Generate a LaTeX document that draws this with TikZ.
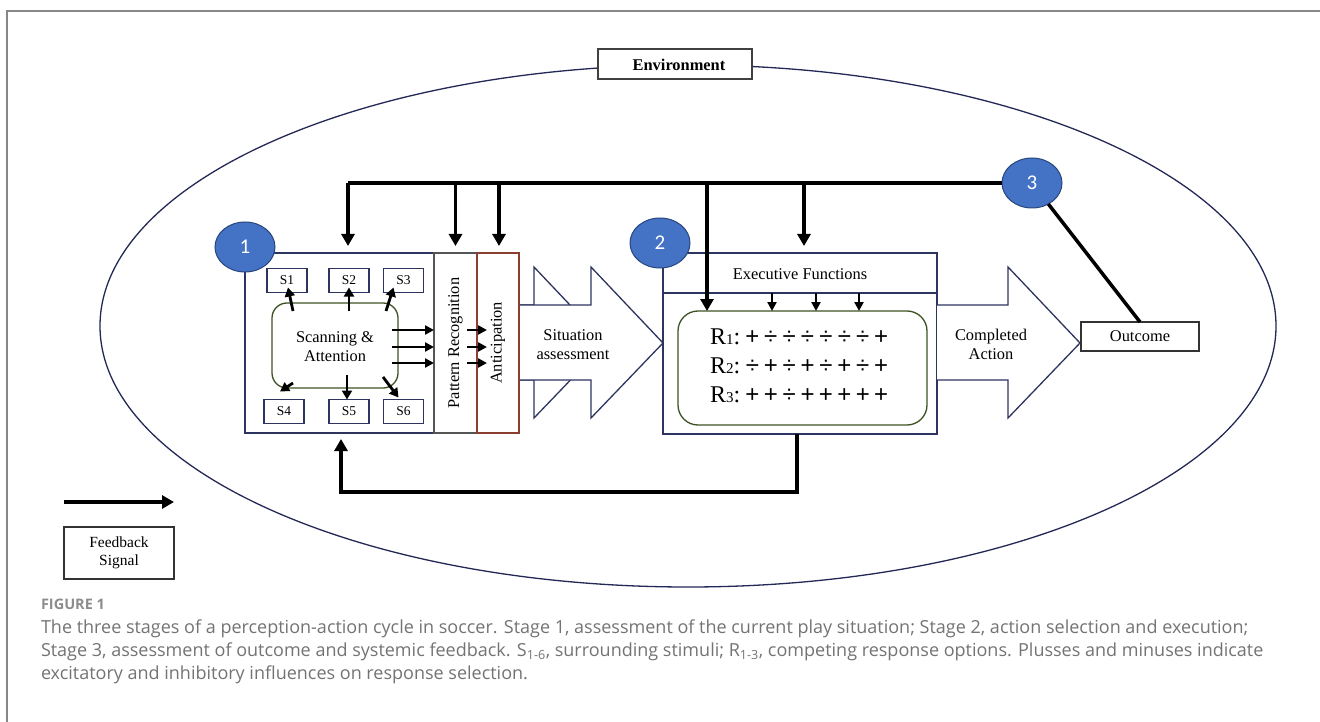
\documentclass[tikz,border=0pt]{standalone}
\usepackage{fontspec}
\setmainfont{Liberation Serif}
\newfontfamily\capfont{Open Sans}
\newfontfamily\numfont{Carlito}
\newfontfamily\symfont{Liberation Sans}
\usetikzlibrary{shapes.geometric,arrows.meta,calc}
\definecolor{navy}{RGB}{45,52,95}
\definecolor{ellc}{RGB}{35,40,85}
\definecolor{prc}{RGB}{85,85,85}
\definecolor{antc}{RGB}{140,62,48}
\definecolor{olive}{RGB}{62,82,34}
\definecolor{circf}{RGB}{68,114,196}
\definecolor{circb}{RGB}{40,70,125}
\definecolor{framec}{RGB}{135,135,135}
\definecolor{capc}{RGB}{115,115,115}
\definecolor{capt}{RGB}{140,140,140}
\newcommand\sy[1]{\makebox[18.4pt]{\symfont #1}}
\newcommand\rlab[1]{R{\fontsize{15}{15}\selectfont #1}:\hspace{3pt}}
\begin{document}
\begin{tikzpicture}[x=1pt,y=-1pt,
  every node/.style={inner sep=0pt, outer sep=0pt},
  bx/.style={draw=navy, line width=1.3pt, fill=white},
  lbl/.style={font=\fontsize{16.4}{19}\selectfont, align=center},
  sbox/.style={bx, minimum width=40pt, minimum height=24pt, font=\fontsize{13.5}{15}\selectfont},
  stage/.style={ellipse, draw=circb, line width=1pt, fill=circf, minimum width=60pt, minimum height=50pt, text=white, font=\numfont\fontsize{21}{21}\selectfont},
  fbline/.style={line width=3.5pt, black},
  fb/.style={fbline, -{Triangle[width=13pt,length=12pt]}},
  sa/.style={line width=2.8pt, -{Triangle[width=10pt,length=9pt]}},
  bigarrow/.style={draw=navy, line width=1.3pt, line join=miter},
  rline/.style={anchor=base west, font=\fontsize{24}{26}\selectfont},
  captext/.style={anchor=base west, text=capc, font=\capfont\fontsize{18}{21}\selectfont},
]
\useasboundingbox (0,0) rectangle (1320,722);
% frame
\draw[framec, line width=1.5pt] (7,722) -- (7,11) -- (1320,11);
% environment
\node[ellipse, draw=ellc, line width=1.3pt, minimum width=1176pt, minimum height=522pt] (env) at (688,326) {};
\node[draw=black!75, line width=1.2pt, fill=white, minimum width=154pt, minimum height=30pt] (envlab) at (675,64) {};
\node[font=\bfseries\fontsize{16.4}{19}\selectfont] (envt) at (679,65) {Environment};

% legend
\coordinate (legA) at (64,502);
\coordinate (legB) at (174,502);
\draw[fb] (legA) -- (legB);
\node[draw=black!80, line width=1.2pt, minimum width=110pt, minimum height=52pt, font=\fontsize{15.5}{18}\selectfont, align=center] (legend) at (119,553) {Feedback\\Signal};

% stage 1
\node[bx, minimum width=189pt, minimum height=180pt] (box1) at (339.5,343) {};
\node[draw=prc, line width=1.3pt, fill=white, minimum width=43pt, minimum height=180pt] (pr) at (455.5,343) {};
\node[draw=antc, line width=1.3pt, fill=white, minimum width=42pt, minimum height=180pt] (ant) at (498,343) {};
\node[lbl, rotate=90] (prt) at (455.5,343) {Pattern Recognition};
\node[lbl, rotate=90] (antt) at (498,343) {Anticipation};
\node[sbox] (s1) at (287,280.5) {S1};
\node[sbox] (s2) at (349,280.5) {S2};
\node[sbox] (s3) at (403.5,280.5) {S3};
\node[sbox] (s4) at (284,411.5) {S4};
\node[sbox] (s5) at (349,411.5) {S5};
\node[sbox] (s6) at (403.5,411.5) {S6};
\node[draw=olive, line width=1.3pt, rounded corners=15pt, minimum width=126pt, minimum height=85pt] (scan) at (335,345.5) {};
\node[lbl] (scant) at (335,347) {Scanning \&\\Attention};

% arrows scanning -> stimuli
\draw[sa] ($(scan.north west)+(21,8)$) -- ($(s1.south)+(1,-5)$);
\draw[sa] ($(scan.north)+(14,8)$) -- ($(s2.south)+(0,-5)$);
\draw[sa] ($(scan.north east)+(-12,8)$) -- ($(s3.south)+(-10,-5)$);
\draw[sa] ($(scan.south west)+(21,-5)$) -- ($(s4.north)+(-4,-8)$);
\draw[sa] ($(scan.south)+(12,-13)$) -- ($(s5.north)+(-2,-0)$);
\draw[sa] ($(scan.south east)+(-15,-11)$) -- ($(s6.north)+(-5,-2)$);
% scanning -> pattern recognition -> anticipation
\foreach \dy in {-13,4,20}{
  \draw[sa, -{Triangle[width=9pt,length=9pt]}] ($(pr.west)+(-42,\dy)$) -- ($(pr.west)+(0,\dy)$);
  \draw[sa, -{Triangle[width=9pt,length=9pt]}] ($(pr.east)+(-10,\dy)$) -- ($(ant.center)+(-11,\dy)$);
}

% situation assessment double arrow
\fill[white] (520,305) -- (534,305) -- (534,267) -- (606,343) -- (534,418) -- (534,380) -- (520,380) -- cycle;
\draw[bigarrow] (520,305) -- (534,305) -- (534,267) -- (606,343) -- (534,418) -- (534,380) -- (520,380);
\fill[white] (520,305) -- (591,305) -- (591,267) -- (663,343) -- (591,418) -- (591,380) -- (520,380) -- cycle;
\draw[bigarrow] (520,305) -- (591,305) -- (591,267) -- (663,343) -- (591,418) -- (591,380) -- (520,380);
\node[lbl] (sit) at (573,345) {Situation\\assessment};

% stage 2
\node[bx, minimum width=274pt, minimum height=181pt] (box2) at (800,343.5) {};
\node[bx, minimum width=274pt, minimum height=40pt] (exec) at (800,273) {};
\node[lbl] (exect) at (800,274) {Executive Functions};
\node[draw=olive, line width=1.3pt, rounded corners=20pt, minimum width=249pt, minimum height=114pt] (rbox) at (802.5,368) {};
\node[rline] (r1) at (710,344) {\rlab{1}\sy{+}\sy{÷}\sy{÷}\sy{÷}\sy{÷}\sy{÷}\sy{÷}\sy{+}};
\node[rline] (r2) at (710,373) {\rlab{2}\sy{÷}\sy{+}\sy{÷}\sy{+}\sy{÷}\sy{+}\sy{÷}\sy{+}};
\node[rline] (r3) at (710,402) {\rlab{3}\sy{+}\sy{+}\sy{÷}\sy{+}\sy{+}\sy{+}\sy{+}\sy{+}};
\foreach \dx in {-28,16,59}{
  \draw[line width=2.5pt, -{Triangle[width=9pt,length=9pt]}] ($(exec.south)+(\dx,0)$) -- ($(exec.south)+(\dx,18)$);
}

% completed action arrow
\fill[white] (937,305) -- (1008,305) -- (1008,267) -- (1080,343) -- (1008,418) -- (1008,380) -- (937,380) -- cycle;
\draw[bigarrow] (937,305) -- (1008,305) -- (1008,267) -- (1080,343) -- (1008,418) -- (1008,380) -- (937,380);
\node[lbl] (comp) at (991,344) {Completed\\Action};
\node[draw=black!80, line width=1.2pt, fill=white, minimum width=118pt, minimum height=29pt, font=\fontsize{16.4}{19}\selectfont] (outcome) at (1140,336.5) {Outcome};

% stage circles
\node[stage] (c1) at (245,247) {1};
\node[stage] (c2) at (660,243) {2};
\node[stage] (c3) at (1032,183) {3};

% feedback bus
\coordinate (busL) at (348,183);
\draw[fbline] (c3.west) -- (busL);
\draw[fb, shorten >=7pt] (busL) -- (busL |- box1.north);
\draw[fb, shorten >=7pt] (pr.north |- busL) -- (pr.north);
\draw[fb, shorten >=7pt] ($(ant.north |- busL)+(1,0)$) -- ($(ant.north)+(1,0)$);
\coordinate (rin) at ($(rbox.north west)+(29,0)$);
\draw[fb] (rin |- busL) -- (rin);
\coordinate (b2in) at ($(box2.north)+(4,0)$);
\draw[fb, shorten >=7pt] (b2in |- busL) -- (b2in);
\draw[fbline] (c3) -- (outcome.north);

% feedback loop at the bottom
\coordinate (fbS) at ($(box2.south)+(-3,0)$);
\coordinate (fbT) at ($(box1.south)+(1.5,0)$);
\draw[fb, shorten >=6pt] (fbS) -- ++(0,58) -| (fbT);

% caption
\node[anchor=base west, text=capt, font=\capfont\bfseries\fontsize{14.5}{16}\selectfont] (figlab) at (41,609) {FIGURE 1};
\node[captext] (cap1) at (41,633) {The three stages of a perception-action cycle in soccer. Stage 1, assessment of the current play situation; Stage 2, action selection and execution;};
\node[captext] (cap2) at (41,656) {Stage 3, assessment of outcome and systemic feedback. S\textsubscript{1-6}, surrounding stimuli; R\textsubscript{1-3}, competing response options. Plusses and minuses indicate};
\node[captext] (cap3) at (41,679) {excitatory and inhibitory influences on response selection.};
\end{tikzpicture}
\end{document}
